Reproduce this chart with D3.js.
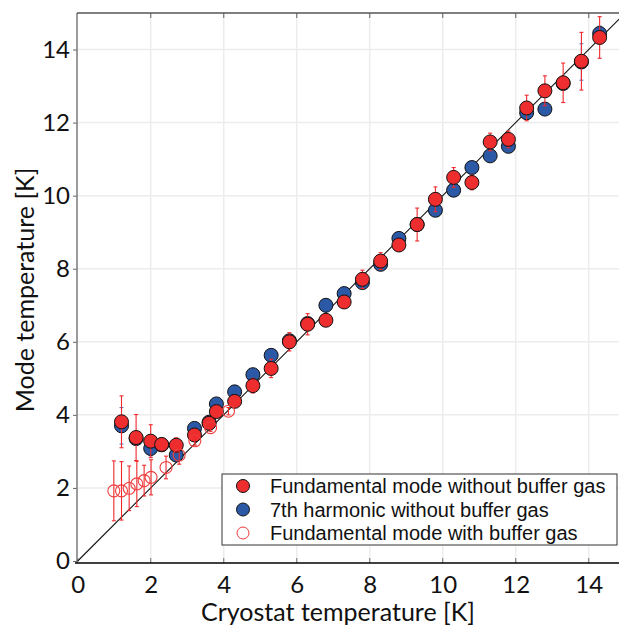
<!DOCTYPE html>
<html>
<head>
<meta charset="utf-8">
<script src="https://cdn.jsdelivr.net/npm/d3@7"></script>
<style>
  body { margin: 0; background: #fff; }
</style>
</head>
<body>
<div id="chart"></div>
<script>
'use strict';

// cryostat temperatures (x) shared by both series without buffer gas
const temps = [1.2, 1.6, 2.0, 2.3, 2.7, 3.2, 3.6, 3.8, 4.3, 4.8, 5.3, 5.8, 6.3, 6.8, 7.3,
  7.8, 8.3, 8.8, 9.3, 9.8, 10.3, 10.8, 11.3, 11.8, 12.3, 12.8, 13.3, 13.8, 14.3];

// fundamental mode without buffer gas
const fundY = [3.81, 3.38, 3.28, 3.19, 3.17, 3.45, 3.77, 4.09, 4.37, 4.80, 5.27, 6.00, 6.48, 6.59, 7.09,
  7.71, 8.21, 8.65, 9.21, 9.90, 10.50, 10.36, 11.47, 11.54, 12.40, 12.87, 13.09, 13.68, 14.33];
const fundErr = [0.71, 0.63, 0.45, 0.15, 0.2, 0.16, 0.1, 0.1, 0.1, 0.2, 0.25, 0.25, 0.29, 0.1, 0.1,
  0.25, 0.23, 0.15, 0.45, 0.34, 0.27, 0.2, 0.24, 0.23, 0.35, 0.41, 0.54, 0.79, 0.57];

// 7th harmonic without buffer gas
const harmY = [3.70, 3.35, 3.08, 3.18, 2.90, 3.63, 3.80, 4.30, 4.63, 5.10, 5.63, 6.03, 6.50, 7.00, 7.32,
  7.62, 8.12, 8.83, 9.21, 9.60, 10.15, 10.77, 11.09, 11.35, 12.27, 12.37, 13.07, 13.66, 14.44];
const harmErr = [0.5, 0, 0.2, 0, 0, 0, 0, 0, 0, 0, 0, 0, 0, 0, 0,
  0, 0, 0, 0, 0, 0, 0, 0, 0, 0, 0, 0, 0.5, 0.2];

// fundamental mode with buffer gas
const gasX = [0.99, 1.20, 1.41, 1.62, 1.82, 2.01, 2.42, 2.78, 3.21, 3.64, 4.13];
const gasY = [1.92, 1.92, 1.99, 2.11, 2.20, 2.29, 2.56, 2.90, 3.29, 3.65, 4.10];
const gasErr = [0.82, 0.80, 0.61, 0.62, 0.42, 0.48, 0.31, 0.25, 0.12, 0.1, 0.1];

const ticks = [0, 2, 4, 6, 8, 10, 12, 14];
const legendLabels = ['Fundamental mode without buffer gas', '7th harmonic without buffer gas',
  'Fundamental mode with buffer gas'];

(function() {

  const width = 619;
  const height = 628;
  const red = '#ee2d2f';
  const blue = '#2b59a6';
  let svg = '';

  window.onload = function() {
    svg = d3.select('#chart')
      .append('svg')
      .attr('width', width)
      .attr('height', height)
      .style('font-family', 'Lato, "Open Sans", sans-serif');

    let funcs = drawAxes();
    plotData(funcs);
    drawLegend();
  };

  // axes, grid and frame
  function drawAxes() {
    let xScale = d3.scaleLinear().domain([0, 15]).range([77.7, 77.7 + 15 * 36.5]);
    let yScale = d3.scaleLinear().domain([0, 15]).range([561, 13]);
    let left = 77;
    let bottom = 563;

    // grid lines
    svg.append('g').selectAll('line')
      .data(ticks.filter((t) => t > 0))
      .enter()
      .append('line')
      .attr('x1', (d) => xScale(d)).attr('x2', (d) => xScale(d))
      .attr('y1', 13).attr('y2', bottom)
      .attr('stroke', '#ececec').attr('stroke-width', 1.5);
    svg.append('g').selectAll('line')
      .data(ticks.filter((t) => t > 0))
      .enter()
      .append('line')
      .attr('x1', left).attr('x2', width)
      .attr('y1', (d) => yScale(d)).attr('y2', (d) => yScale(d))
      .attr('stroke', '#ececec').attr('stroke-width', 1.5);

    // bottom axis with inward ticks
    let xAxis = d3.axisBottom(xScale).tickValues(ticks).tickSize(0).tickPadding(13);
    let gx = svg.append('g')
      .attr('transform', 'translate(0,' + bottom + ')')
      .call(xAxis);
    gx.select('.domain').remove();
    gx.selectAll('text').style('font-size', '24px').style('font-family', 'Lato, sans-serif').attr('fill', '#111');

    svg.append('g').selectAll('line')
      .data(ticks)
      .enter()
      .append('line')
      .attr('x1', (d) => xScale(d)).attr('x2', (d) => xScale(d))
      .attr('y1', bottom).attr('y2', bottom - 5)
      .attr('stroke', '#888').attr('stroke-width', 1.2);
    svg.append('g').selectAll('line')
      .data(ticks.filter((t) => t > 0))
      .enter()
      .append('line')
      .attr('x1', (d) => xScale(d)).attr('x2', (d) => xScale(d))
      .attr('y1', 13).attr('y2', 18)
      .attr('stroke', '#777').attr('stroke-width', 1.2);

    // left axis
    let yAxis = d3.axisLeft(yScale).tickValues(ticks).tickSize(4).tickPadding(3);
    let gy = svg.append('g')
      .attr('transform', 'translate(' + left + ',0)')
      .call(yAxis);
    gy.select('.domain').remove();
    gy.selectAll('line').attr('stroke', '#666');
    gy.selectAll('text').style('font-size', '24px').style('font-family', 'Lato, sans-serif').attr('fill', '#111');

    // frame
    svg.append('line')
      .attr('x1', left).attr('x2', left).attr('y1', 13).attr('y2', bottom)
      .attr('stroke', '#7a7a7a').attr('stroke-width', 1.5);
    svg.append('line')
      .attr('x1', left).attr('x2', width).attr('y1', 13).attr('y2', 13)
      .attr('stroke', '#555').attr('stroke-width', 1.5);
    svg.append('line')
      .attr('x1', left - 2).attr('x2', width).attr('y1', bottom).attr('y2', bottom)
      .attr('stroke', '#000').attr('stroke-width', 1.5);

    // axis titles
    svg.append('text')
      .attr('x', 338)
      .attr('y', 621)
      .attr('text-anchor', 'middle')
      .style('font-size', '25px')
      .attr('fill', '#111')
      .text('Cryostat temperature [K]');
    svg.append('text')
      .attr('transform', 'translate(34, 290)rotate(-90)')
      .attr('text-anchor', 'middle')
      .style('font-size', '25px')
      .attr('fill', '#111')
      .text('Mode temperature [K]');

    return { x: xScale, y: yScale };
  }

  // vertical error bars with small caps
  function errorBars(xs, ys, errs, funcs, color) {
    let rows = xs.map((x, i) => ({ x: x, y: ys[i], e: errs[i] })).filter((d) => d.e > 0);
    let g = svg.append('g').attr('stroke', color).attr('stroke-width', 1.1);
    rows.forEach((d) => {
      let cx = funcs.x(d.x);
      let y1 = funcs.y(d.y + d.e);
      let y2 = funcs.y(d.y - d.e);
      g.append('line').attr('x1', cx).attr('x2', cx).attr('y1', y1).attr('y2', y2);
      g.append('line').attr('x1', cx - 2).attr('x2', cx + 2).attr('y1', y1).attr('y2', y1);
      g.append('line').attr('x1', cx - 2).attr('x2', cx + 2).attr('y1', y2).attr('y2', y2);
    });
  }

  function plotData(funcs) {
    let xMap = funcs.x;
    let yMap = funcs.y;

    // y = x reference line, clipped to the plot area
    svg.append('clipPath').attr('id', 'plotClip')
      .append('rect').attr('x', 77).attr('y', 13).attr('width', width - 77).attr('height', 550);
    svg.append('line')
      .attr('clip-path', 'url(#plotClip)')
      .attr('x1', xMap(0)).attr('y1', yMap(0))
      .attr('x2', xMap(16)).attr('y2', yMap(16))
      .attr('stroke', '#111').attr('stroke-width', 1.1);

    // 7th harmonic
    errorBars(temps, harmY, harmErr, funcs, '#5a7fc6');
    svg.append('g').selectAll('circle')
      .data(temps)
      .enter()
      .append('circle')
      .attr('cx', (d) => xMap(d))
      .attr('cy', (d, i) => yMap(harmY[i]))
      .attr('r', 7)
      .attr('fill', blue)
      .attr('stroke', '#111')
      .attr('stroke-width', 1);

    // fundamental without gas
    errorBars(temps, fundY, fundErr, funcs, '#f0282c');
    svg.append('g').selectAll('circle')
      .data(temps)
      .enter()
      .append('circle')
      .attr('cx', (d) => xMap(d))
      .attr('cy', (d, i) => yMap(fundY[i]))
      .attr('r', 7)
      .attr('fill', red)
      .attr('stroke', '#111')
      .attr('stroke-width', 1);

    // fundamental with buffer gas (open markers)
    errorBars(gasX, gasY, gasErr, funcs, '#f0282c');
    svg.append('g').selectAll('circle')
      .data(gasX)
      .enter()
      .append('circle')
      .attr('cx', (d) => xMap(d))
      .attr('cy', (d, i) => yMap(gasY[i]))
      .attr('r', 6)
      .attr('fill', 'none')
      .attr('stroke', '#f03c3c')
      .attr('stroke-width', 1.1);
  }

  function drawLegend() {
    let g = svg.append('g');
    g.append('rect')
      .attr('x', 222).attr('y', 474)
      .attr('width', 395).attr('height', 71)
      .attr('fill', '#fff')
      .attr('stroke', '#333')
      .attr('stroke-width', 1);

    let styles = [
      { fill: red, stroke: '#111', r: 6.5 },
      { fill: blue, stroke: '#111', r: 6.5 },
      { fill: 'none', stroke: '#f03c3c', r: 6 }
    ];

    legendLabels.forEach((label, i) => {
      let y = 486 + i * 23.5;
      g.append('circle')
        .attr('cx', 243).attr('cy', y)
        .attr('r', styles[i].r)
        .attr('fill', styles[i].fill)
        .attr('stroke', styles[i].stroke)
        .attr('stroke-width', 1);
      g.append('text')
        .attr('x', 270).attr('y', y)
        .attr('dy', '0.35em')
        .style('font-family', '"Liberation Sans", Arial, sans-serif')
        .style('font-size', '20px')
        .attr('fill', '#111')
        .text(label);
    });
  }

})();
</script>
</body>
</html>
